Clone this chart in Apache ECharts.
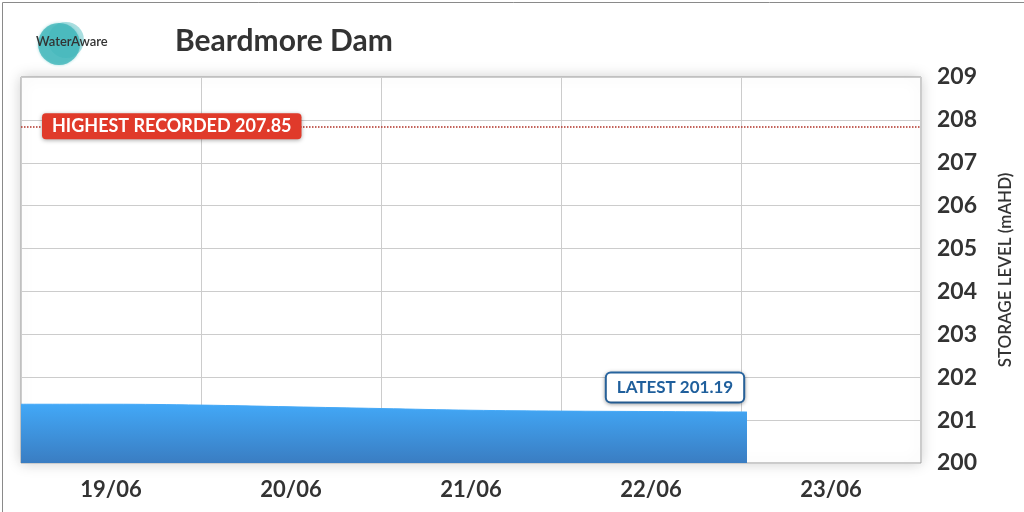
<!DOCTYPE html>
<html><head><meta charset="utf-8">
<script src="https://cdn.jsdelivr.net/npm/echarts@6/dist/echarts.min.js"></script>
<style>html,body{margin:0;padding:0;background:#fff}#c{width:1024px;height:512px}</style>
</head><body><div id="c"></div>
<script>
const dayLabels = ['19/06','20/06','21/06','22/06','23/06'];
const hours = [0, 12, 24, 36, 48, 60, 72, 84, 96, 96.8];
const levels = [201.37, 201.37, 201.35, 201.31, 201.27, 201.23, 201.21, 201.20, 201.19, 201.19];
const highestRecorded = 207.85;
const latestLevel = 201.19;
const yTicks = [200, 209, 1];

const data = hours.map((h, i) => [h, levels[i]]);
const last = data[data.length - 1];

const chart = echarts.init(document.getElementById('c'));
chart.setOption({
  animation: false,
  textStyle: { fontFamily: 'Lato' },
  title: {
    text: 'Beardmore Dam', left: 170, top: 21,
    textStyle: { fontSize: 30, fontWeight: 'bold', color: '#333', fontFamily: 'Lato' }
  },
  graphic: [
    { type: 'rect', left: 0, top: 0, shape: { width: 1023, height: 511 }, style: { fill: 'none', stroke: '#8a8a8a', lineWidth: 1 }, z: 100 },
    { type: 'circle', shape: { cx: 59, cy: 44, r: 21 }, style: { fill: 'rgba(64,182,186,0.8)', shadowBlur: 3, shadowColor: 'rgba(64,182,186,0.6)' }, z: 10 },
    { type: 'circle', shape: { cx: 66, cy: 40, r: 18 }, style: { fill: 'rgba(64,182,186,0.45)' }, z: 10 },
    { type: 'text', left: 36, top: 35, style: { text: 'WaterAware', fontSize: 13, fontFamily: 'Lato', fill: '#333', fontWeight: 600 }, z: 11 }
  ],
  grid: {
    left: 21, right: 103, top: 77, bottom: 49, show: true,
    backgroundColor: '#fff', borderColor: '#9a9a9a', borderWidth: 1,
    shadowBlur: 14, shadowColor: 'rgba(0,0,0,0.2)'
  },
  xAxis: [
    {
      type: 'value', min: 0, max: 120, interval: 24,
      axisLine: { show: false }, axisTick: { show: false }, axisLabel: { show: false },
      splitLine: { show: true, lineStyle: { color: '#cccccc', width: 1 } }
    },
    {
      type: 'category', data: dayLabels, boundaryGap: true, position: 'bottom',
      axisLine: { show: false }, axisTick: { show: false }, splitLine: { show: false },
      axisLabel: { fontSize: 22, fontWeight: 'bold', color: '#333', margin: 16, fontFamily: 'Lato' }
    }
  ],
  yAxis: {
    type: 'value', position: 'right', min: yTicks[0], max: yTicks[1], interval: yTicks[2],
    axisLine: { show: false }, axisTick: { show: false },
    axisLabel: { fontSize: 23, fontWeight: 'bold', color: '#333', margin: 16, fontFamily: 'Lato' },
    splitLine: { show: true, lineStyle: { color: '#cccccc', width: 1 } },
    name: 'STORAGE LEVEL (mAHD)', nameLocation: 'middle', nameRotate: 90, nameGap: 76,
    nameTextStyle: { fontSize: 17, color: '#333', fontFamily: 'Lato', fontWeight: 600 }
  },
  series: [{
    type: 'line', xAxisIndex: 0, data: data, smooth: 0.4, symbol: 'none', showSymbol: false,
    lineStyle: { width: 1, color: '#45a9f7' },
    areaStyle: {
      opacity: 1,
      color: new echarts.graphic.LinearGradient(0, 0, 0, 1, [
        { offset: 0, color: '#42a8f7' }, { offset: 1, color: '#3a7dc2' }
      ])
    },
    markPoint: {
      silent: true, symbol: 'circle', symbolSize: 1,
      itemStyle: { color: 'rgba(0,0,0,0)' },
      label: {
        show: true, position: 'top', distance: 10, offset: [-72, 0],
        formatter: 'LATEST ' + latestLevel.toFixed(2),
        color: '#1f5f9c', fontSize: 17, fontWeight: 'bold', fontFamily: 'Lato',
        backgroundColor: '#fff', borderColor: '#2a6aa8', borderWidth: 2, borderRadius: 4,
        padding: [6, 10, 5, 10], shadowBlur: 4, shadowColor: 'rgba(0,0,0,0.3)', shadowOffsetY: 1
      },
      data: [{ coord: last }]
    },
    markLine: {
      silent: true, symbol: 'none',
      lineStyle: { color: '#b03025', type: 'dotted', width: 1.5 },
      label: {
        show: true, position: 'insideStart', distance: [21, -13],
        formatter: 'HIGHEST RECORDED ' + highestRecorded.toFixed(2),
        color: '#fff', backgroundColor: '#e03a2a', borderRadius: 4,
        fontSize: 18, fontWeight: 'bold', fontFamily: 'Lato', padding: [5, 10, 3, 10],
        shadowBlur: 4, shadowColor: 'rgba(0,0,0,0.35)', shadowOffsetY: 1
      },
      data: [{ yAxis: highestRecorded }]
    }
  }]
});
</script></body></html>
